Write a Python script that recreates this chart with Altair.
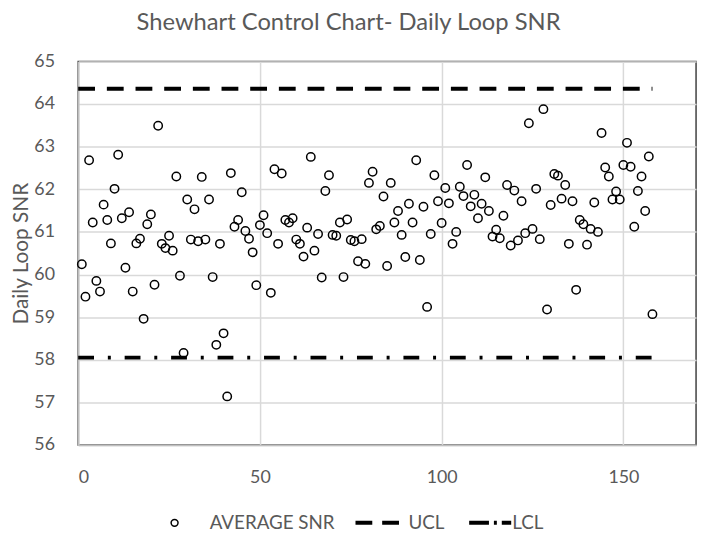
import altair as alt
import pandas as pd

# ---- data ----
day = list(range(1, 159))
snr = [
    60.24, 59.48, 62.68, 61.22, 59.85, 59.60, 61.64, 61.28, 60.73, 62.01,
    62.81, 61.32, 60.16, 61.46, 59.60, 60.73, 60.84, 58.96, 61.18, 61.41,
    59.76, 63.49, 60.72, 60.62, 60.91, 60.56, 62.30, 59.97, 58.16, 61.76,
    60.82, 61.53, 60.78, 62.29, 60.82, 61.76, 59.94, 58.35, 60.72, 58.62,
    57.14, 62.38, 61.12, 61.28, 61.93, 61.02, 60.84, 60.52, 59.75, 61.16,
    61.39, 60.97, 59.57, 62.47, 60.72, 62.37, 61.28, 61.22, 61.32, 60.82,
    60.72, 60.42, 61.10, 62.76, 60.56, 60.95, 59.93, 61.96, 62.33, 60.93,
    60.91, 61.22, 59.94, 61.29, 60.81, 60.78, 60.31, 60.83, 60.25, 62.15,
    62.41, 61.06, 61.14, 61.83, 60.20, 62.15, 61.22, 61.49, 60.93, 60.41,
    61.66, 61.22, 62.68, 60.34, 61.59, 59.24, 60.95, 62.33, 61.72, 61.21,
    62.03, 61.67, 60.72, 61.00, 62.06, 61.84, 62.57, 61.60, 61.87, 61.32,
    61.66, 62.28, 61.49, 60.89, 61.05, 60.85, 61.38, 62.10, 60.68, 61.97,
    60.80, 61.72, 60.97, 63.55, 61.07, 62.01, 60.83, 63.88, 59.18, 61.63,
    62.36, 62.32, 61.78, 62.10, 60.72, 61.72, 59.64, 61.28, 61.18, 60.70,
    61.07, 61.69, 61.00, 63.32, 62.51, 62.30, 61.76, 61.95, 61.76, 62.57,
    63.09, 62.53, 61.12, 61.96, 62.30, 61.49, 62.77, 59.07,
]
ucl_value = 64.36
lcl_value = 58.05
limit_days = [0, 158]
series_names = ["AVERAGE SNR", "UCL", "LCL"]
x_ticks = [0, 50, 100, 150]
y_ticks = list(range(56, 66))

points = pd.DataFrame({"Day": day, "SNR": snr, "Series": series_names[0]})
ucl = pd.DataFrame({"Day": limit_days, "SNR": [ucl_value] * 2, "Series": "UCL"})
lcl = pd.DataFrame({"Day": limit_days, "SNR": [lcl_value] * 2, "Series": "LCL"})

FONT = "Lato"
GREY = "#595959"

# legend glyphs (path units scale with the legend symbol size)
ucl_symbol = "M-5.14,0H-0.29M2.57,0H7.43"
lcl_symbol = "M-3.43,0M-2.29,0H3.43M4.86,0H5.71M7.14,0H9.86"

x_enc = alt.X(
    "Day:Q",
    scale=alt.Scale(domain=[0, 170], nice=False, zero=False),
    axis=alt.Axis(values=x_ticks, title=None, grid=True, ticks=False,
                  labelPadding=24, labelFontSize=18, labelFont=FONT,
                  labelColor=GREY, domainColor="#bfbfbf", domainWidth=1.5,
                  gridColor="#d9d9d9", gridWidth=1.5),
)
y_enc = alt.Y(
    "SNR:Q",
    scale=alt.Scale(domain=[56, 65], nice=False, zero=False),
    axis=alt.Axis(values=y_ticks, title="Daily Loop SNR", grid=True, ticks=False,
                  labelPadding=24, labelFontSize=18, labelFont=FONT,
                  labelColor=GREY, titleFont=FONT, titleFontSize=21,
                  titleFontWeight="normal", titleColor=GREY, titlePadding=2,
                  domainColor="#bfbfbf", domainWidth=1.5,
                  gridColor="#d9d9d9", gridWidth=1.5),
)

legend = alt.Legend(
    title=None, orient="none", legendX=88, legendY=457, direction="horizontal",
    symbolSize=49, symbolStrokeColor="black",
    symbolStrokeWidth=alt.ExprRef("datum.value === 'AVERAGE SNR' ? 1.5 : 4"),
    labelFont=FONT, labelFontSize=19, labelColor=GREY, labelOffset=26,
    columnPadding=12, padding=0,
)

pts = alt.Chart(points).mark_point(
    filled=False, size=72, strokeWidth=1.5, color="black", opacity=1
).encode(
    x=x_enc, y=y_enc,
    shape=alt.Shape("Series:N",
                    scale=alt.Scale(domain=series_names,
                                    range=["circle", ucl_symbol, lcl_symbol]),
                    legend=legend),
)

ucl_line = alt.Chart(ucl).mark_line(
    color="black", strokeWidth=4, strokeDash=[17, 12]
).encode(x=x_enc, y=y_enc)

lcl_line = alt.Chart(lcl).mark_line(
    color="black", strokeWidth=4, strokeDash=[16, 14, 3, 14]
).encode(x=x_enc, y=y_enc)

chart = alt.layer(ucl_line, lcl_line, pts).properties(
    width=625, height=388,
    title=alt.TitleParams("Shewhart Control Chart- Daily Loop SNR", font=FONT,
                          fontSize=24, fontWeight="normal", color=GREY,
                          anchor="middle", dx=-39, offset=18),
    autosize=alt.AutoSizeParams(type="none"),
    padding={"left": 71, "top": 51, "right": 5, "bottom": 88},
).configure_view(stroke="#404040", strokeWidth=1.5)

chart.save("out.html", embed_options={"renderer": "svg", "actions": False})
